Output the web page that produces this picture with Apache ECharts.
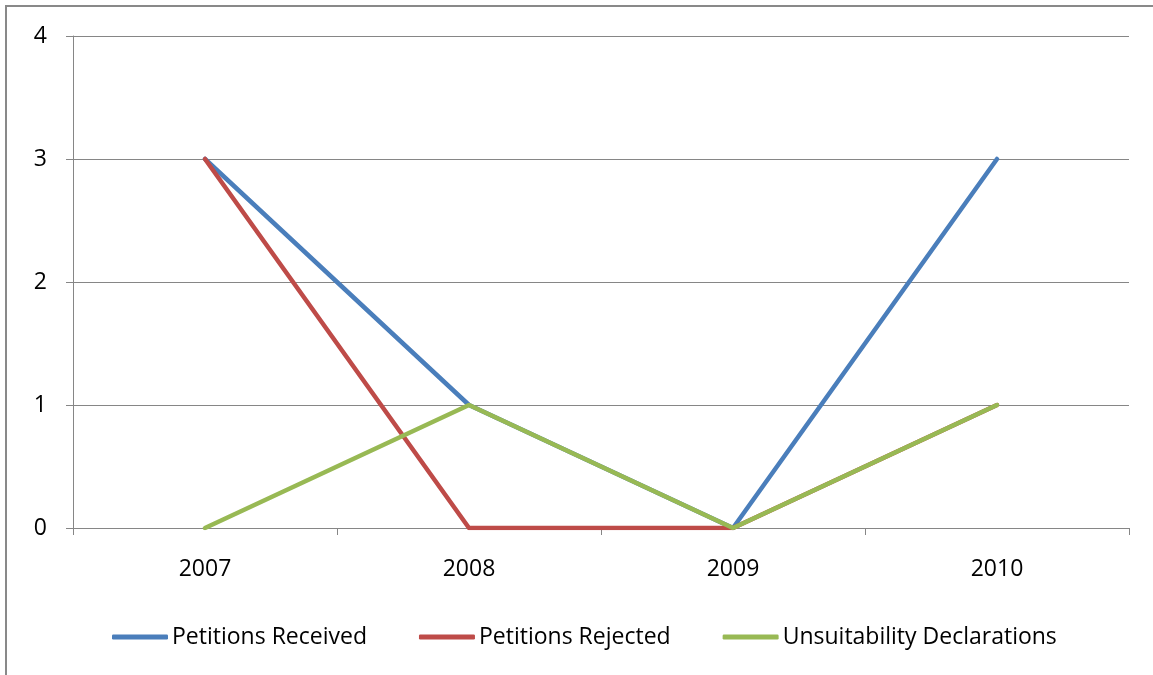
<!DOCTYPE html>
<html><head><meta charset="utf-8">
<script src="https://cdn.jsdelivr.net/npm/echarts@6/dist/echarts.min.js"></script>
<style>html,body{margin:0;padding:0;background:#fff}#c{width:1153px;height:675px}</style>
</head><body><div id="c"></div>
<script>
const categories = ['2007','2008','2009','2010'];
const petitionsReceived = [3,1,0,3];
const petitionsRejected = [3,0,0,1];
const unsuitabilityDeclarations = [0,1,0,1];
const seriesNames = ['Petitions Received','Petitions Rejected','Unsuitability Declarations'];
const colors = ['#4a7ebb','#be4b48','#98b954'];
const font = 'Open Sans';
const chart = echarts.init(document.getElementById('c'));
const mk = (name, data, color, z) => ({
  name, type:'line', data, symbol:'none', z,
  lineStyle:{color, width:4.5, cap:'round', join:'round'}, itemStyle:{color},
  emphasis:{disabled:true}, animation:false
});
chart.setOption({
  animation:false,
  graphic:[{type:'rect', shape:{x:6,y:6,width:1300,height:800}, style:{fill:'none', stroke:'#898989', lineWidth:2}, silent:true}],
  grid:{left:73,right:24,top:36,bottom:147},
  legend:{
    top:625, left:112, padding:0, itemGap:52, itemWidth:56, itemHeight:5, icon:'roundRect',
    textStyle:{fontFamily:font, fontSize:23, lineHeight:24, color:'#000', padding:[0,0,0,-1]},
    data:seriesNames
  },
  xAxis:{type:'category', data:categories, boundaryGap:true,
    axisLine:{lineStyle:{color:'#868686', width:1}},
    axisTick:{show:true, length:7, lineStyle:{color:'#868686'}},
    axisLabel:{fontFamily:font, fontSize:23, color:'#000', margin:30}
  },
  yAxis:{type:'value', min:0, max:4, interval:1,
    axisLine:{show:true, lineStyle:{color:'#868686', width:1}},
    axisTick:{show:true, length:7, lineStyle:{color:'#868686'}},
    axisLabel:{fontFamily:font, fontSize:23, color:'#000', margin:26},
    splitLine:{lineStyle:{color:'#868686', width:1}}
  },
  series:[
    mk(seriesNames[0], petitionsReceived, colors[0], 2),
    mk(seriesNames[1], petitionsRejected, colors[1], 3),
    mk(seriesNames[2], unsuitabilityDeclarations, colors[2], 4)
  ]
});
</script></body></html>
